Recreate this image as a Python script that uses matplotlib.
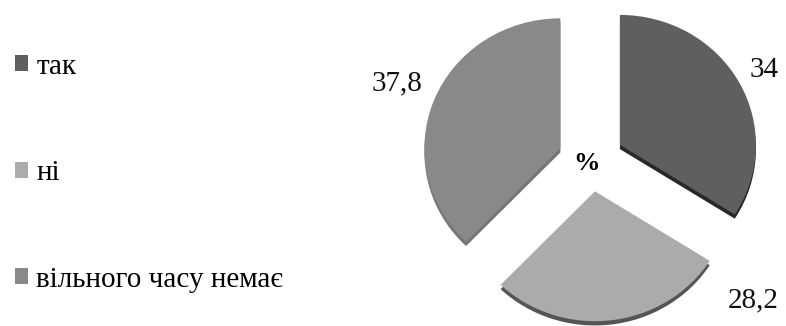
import matplotlib.pyplot as plt
from matplotlib.patches import Patch

plt.rcParams['font.family'] = ['Liberation Serif', 'DejaVu Serif']

# survey answers, percent
labels = ['так', 'ні', 'вільного часу немає']
values = [34, 28.2, 37.8]
value_text = ['34', '28,2', '37,8']
colors = ['#5f5f5f', '#ababab', '#898989']
edge_colors = ['#282828', '#555555', '#767676']

fig = plt.figure(figsize=(7.86, 3.26), dpi=100)
ax = fig.add_axes([0, 0, 1, 1])

# slight vertical squash so the pie looks tilted
squash = 0.955
cx, cy, r = 591, 166 / squash, 136
# explode offset is in data units (pixels here)
explode = [33] * 3

# darker copy shifted down gives the slices a thin side edge
ax.pie(values, colors=edge_colors, startangle=90, counterclock=False,
       explode=explode, radius=r, center=(cx, cy - 4.5), frame=True,
       wedgeprops=dict(linewidth=0))
wedges, texts = ax.pie(values, colors=colors, startangle=90, counterclock=False,
                       explode=explode, radius=r, center=(cx, cy), frame=True,
                       labels=value_text, labeldistance=1.2,
                       wedgeprops=dict(linewidth=0),
                       textprops=dict(fontsize=21, color='#111111'))
ax.set_xlim(0, 786)
ax.set_ylim(0, 326 / squash)
ax.set_aspect('auto')
ax.axis('off')

# value labels placed the way the source chart had them
label_pos = [(764, 256), (753, 26), (397, 243)]
for t, (x, y) in zip(texts, label_pos):
    t.set_position((x, y / squash))
    t.set_ha('center')
    t.set_va('center')

ax.text(587, 162 / squash, '%', fontsize=19, fontweight='bold',
        ha='center', va='center')

handles = [Patch(facecolor=c, edgecolor='none') for c in colors]
fig.legend(handles, labels, loc='upper left', bbox_to_anchor=(0.0, 0.88),
           frameon=False, fontsize=21, labelspacing=2.76,
           handlelength=0.45, handleheight=0.45, handletextpad=0.3,
           borderpad=0, borderaxespad=0.5)

fig.savefig('out.png', dpi=100)
